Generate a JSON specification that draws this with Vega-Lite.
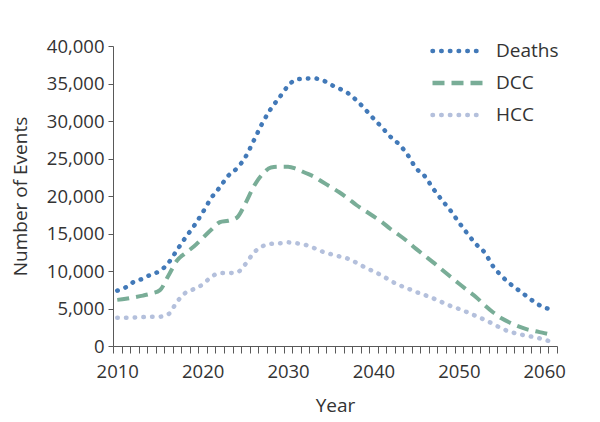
{
  "$schema": "https://vega.github.io/schema/vega-lite/v6.json",
  "autosize": {"type": "none"},
  "padding": {"left": 113, "top": 46, "right": 43, "bottom": 76},
  "width": 444,
  "height": 300,
  "background": "white",
  "config": {
    "view": {"stroke": null},
    "font": "Open Sans",
    "axis": {"labelFont": "Open Sans", "titleFont": "Open Sans", "labelColor": "#333333", "titleColor": "#333333", "titleFontWeight": "normal", "domainColor": "#595959", "tickColor": "#595959", "grid": false}
  },
  "data": {"values": [
    {"year":2010,"series":"Deaths","value":7380},{"year":2011,"series":"Deaths","value":7820},{"year":2012,"series":"Deaths","value":8600},{"year":2013,"series":"Deaths","value":8970},{"year":2014,"series":"Deaths","value":9570},{"year":2015,"series":"Deaths","value":10000},{"year":2016,"series":"Deaths","value":11100},{"year":2017,"series":"Deaths","value":12800},{"year":2018,"series":"Deaths","value":14470},{"year":2019,"series":"Deaths","value":16030},{"year":2020,"series":"Deaths","value":17800},{"year":2021,"series":"Deaths","value":19720},{"year":2022,"series":"Deaths","value":21150},{"year":2023,"series":"Deaths","value":22700},{"year":2024,"series":"Deaths","value":23680},{"year":2025,"series":"Deaths","value":25180},{"year":2026,"series":"Deaths","value":27420},{"year":2027,"series":"Deaths","value":29730},{"year":2028,"series":"Deaths","value":31640},{"year":2029,"series":"Deaths","value":33150},{"year":2030,"series":"Deaths","value":34680},{"year":2031,"series":"Deaths","value":35550},{"year":2032,"series":"Deaths","value":35640},{"year":2033,"series":"Deaths","value":35680},{"year":2034,"series":"Deaths","value":35470},{"year":2035,"series":"Deaths","value":34850},{"year":2036,"series":"Deaths","value":34320},{"year":2037,"series":"Deaths","value":33720},{"year":2038,"series":"Deaths","value":32770},{"year":2039,"series":"Deaths","value":31600},{"year":2040,"series":"Deaths","value":30340},{"year":2041,"series":"Deaths","value":29150},{"year":2042,"series":"Deaths","value":27890},{"year":2043,"series":"Deaths","value":26900},{"year":2044,"series":"Deaths","value":25500},{"year":2045,"series":"Deaths","value":23700},{"year":2046,"series":"Deaths","value":22660},{"year":2047,"series":"Deaths","value":20980},{"year":2048,"series":"Deaths","value":19490},{"year":2049,"series":"Deaths","value":18100},{"year":2050,"series":"Deaths","value":16500},{"year":2051,"series":"Deaths","value":15000},{"year":2052,"series":"Deaths","value":13600},{"year":2053,"series":"Deaths","value":12500},{"year":2054,"series":"Deaths","value":10650},{"year":2055,"series":"Deaths","value":9350},{"year":2056,"series":"Deaths","value":8300},{"year":2057,"series":"Deaths","value":7440},{"year":2058,"series":"Deaths","value":6600},{"year":2059,"series":"Deaths","value":5750},{"year":2060,"series":"Deaths","value":5130},{"year":2061,"series":"Deaths","value":4890},
    {"year":2010,"series":"DCC","value":6150},{"year":2011,"series":"DCC","value":6300},{"year":2012,"series":"DCC","value":6500},{"year":2013,"series":"DCC","value":6720},{"year":2014,"series":"DCC","value":7000},{"year":2015,"series":"DCC","value":7450},{"year":2016,"series":"DCC","value":9400},{"year":2017,"series":"DCC","value":11400},{"year":2018,"series":"DCC","value":12400},{"year":2019,"series":"DCC","value":13300},{"year":2020,"series":"DCC","value":14400},{"year":2021,"series":"DCC","value":15500},{"year":2022,"series":"DCC","value":16500},{"year":2023,"series":"DCC","value":16700},{"year":2024,"series":"DCC","value":17100},{"year":2025,"series":"DCC","value":19000},{"year":2026,"series":"DCC","value":21300},{"year":2027,"series":"DCC","value":22900},{"year":2028,"series":"DCC","value":23800},{"year":2029,"series":"DCC","value":23900},{"year":2030,"series":"DCC","value":23900},{"year":2031,"series":"DCC","value":23600},{"year":2032,"series":"DCC","value":23100},{"year":2033,"series":"DCC","value":22600},{"year":2034,"series":"DCC","value":21900},{"year":2035,"series":"DCC","value":21200},{"year":2036,"series":"DCC","value":20500},{"year":2037,"series":"DCC","value":19700},{"year":2038,"series":"DCC","value":18800},{"year":2039,"series":"DCC","value":18050},{"year":2040,"series":"DCC","value":17300},{"year":2041,"series":"DCC","value":16530},{"year":2042,"series":"DCC","value":15600},{"year":2043,"series":"DCC","value":14800},{"year":2044,"series":"DCC","value":13930},{"year":2045,"series":"DCC","value":12950},{"year":2046,"series":"DCC","value":12050},{"year":2047,"series":"DCC","value":11150},{"year":2048,"series":"DCC","value":10200},{"year":2049,"series":"DCC","value":9260},{"year":2050,"series":"DCC","value":8340},{"year":2051,"series":"DCC","value":7420},{"year":2052,"series":"DCC","value":6540},{"year":2053,"series":"DCC","value":5470},{"year":2054,"series":"DCC","value":4500},{"year":2055,"series":"DCC","value":3700},{"year":2056,"series":"DCC","value":3100},{"year":2057,"series":"DCC","value":2620},{"year":2058,"series":"DCC","value":2220},{"year":2059,"series":"DCC","value":1960},{"year":2060,"series":"DCC","value":1720},{"year":2061,"series":"DCC","value":1450},
    {"year":2010,"series":"HCC","value":3780},{"year":2011,"series":"HCC","value":3780},{"year":2012,"series":"HCC","value":3800},{"year":2013,"series":"HCC","value":3850},{"year":2014,"series":"HCC","value":3900},{"year":2015,"series":"HCC","value":3910},{"year":2016,"series":"HCC","value":4250},{"year":2017,"series":"HCC","value":5900},{"year":2018,"series":"HCC","value":7100},{"year":2019,"series":"HCC","value":7600},{"year":2020,"series":"HCC","value":8200},{"year":2021,"series":"HCC","value":9200},{"year":2022,"series":"HCC","value":9730},{"year":2023,"series":"HCC","value":9730},{"year":2024,"series":"HCC","value":9800},{"year":2025,"series":"HCC","value":10900},{"year":2026,"series":"HCC","value":12450},{"year":2027,"series":"HCC","value":13300},{"year":2028,"series":"HCC","value":13620},{"year":2029,"series":"HCC","value":13700},{"year":2030,"series":"HCC","value":13820},{"year":2031,"series":"HCC","value":13700},{"year":2032,"series":"HCC","value":13500},{"year":2033,"series":"HCC","value":13080},{"year":2034,"series":"HCC","value":12600},{"year":2035,"series":"HCC","value":12250},{"year":2036,"series":"HCC","value":11950},{"year":2037,"series":"HCC","value":11650},{"year":2038,"series":"HCC","value":11100},{"year":2039,"series":"HCC","value":10500},{"year":2040,"series":"HCC","value":9950},{"year":2041,"series":"HCC","value":9400},{"year":2042,"series":"HCC","value":8700},{"year":2043,"series":"HCC","value":8130},{"year":2044,"series":"HCC","value":7680},{"year":2045,"series":"HCC","value":7200},{"year":2046,"series":"HCC","value":6800},{"year":2047,"series":"HCC","value":6350},{"year":2048,"series":"HCC","value":5850},{"year":2049,"series":"HCC","value":5350},{"year":2050,"series":"HCC","value":4950},{"year":2051,"series":"HCC","value":4500},{"year":2052,"series":"HCC","value":4000},{"year":2053,"series":"HCC","value":3500},{"year":2054,"series":"HCC","value":2950},{"year":2055,"series":"HCC","value":2350},{"year":2056,"series":"HCC","value":1900},{"year":2057,"series":"HCC","value":1600},{"year":2058,"series":"HCC","value":1350},{"year":2059,"series":"HCC","value":1150},{"year":2060,"series":"HCC","value":850},{"year":2061,"series":"HCC","value":500}
  ]},
  "encoding": {
    "y": {"field": "value", "type": "quantitative", "scale": {"domain": [0, 40000], "nice": false},
      "axis": {"values": [0,5000,10000,15000,20000,25000,30000,35000,40000], "format": ",.0f", "labelFontSize": 18.5, "tickSize": 5, "labelPadding": 4, "title": "Number of Events", "titleFontSize": 19, "titlePadding": 16}},
    "color": {"field": "series", "type": "nominal", "scale": {"domain": ["Deaths","DCC","HCC"], "range": ["#4279b8","#79ad97","#b4c0dc"]},
      "legend": {"title": null, "orient": "none", "legendX": 317, "legendY": -11, "symbolType": "stroke", "symbolSize": 2704, "symbolStrokeWidth": 4.5, "labelFontSize": 19, "labelFont": "Open Sans", "labelColor": "#333333", "labelOffset": 9, "rowPadding": 0, "clipHeight": 32,
        "encode": {"symbols": {"update": {"strokeCap": {"signal": "datum.value === 'DCC' ? 'butt' : 'round'"}}}}}},
    "strokeDash": {"field": "series", "type": "nominal", "scale": {"domain": ["Deaths","DCC","HCC"], "range": [[0.5,8.2],[12,7],[0.5,8.2]]}}
  },
  "layer": [
    {
      "transform": [{"filter": "datum.series === 'DCC'"}],
      "mark": {"type": "line", "strokeWidth": 4, "strokeCap": "butt", "interpolate": "monotone"},
      "encoding": {
        "x": {"field": "year", "type": "quantitative", "scale": {"domain": [2009.5, 2061.5], "nice": false, "zero": false},
          "axis": {"orient": "bottom", "values": [2009.5,2010.5,2011.5,2012.5,2013.5,2014.5,2015.5,2016.5,2017.5,2018.5,2019.5,2020.5,2021.5,2022.5,2023.5,2024.5,2025.5,2026.5,2027.5,2028.5,2029.5,2030.5,2031.5,2032.5,2033.5,2034.5,2035.5,2036.5,2037.5,2038.5,2039.5,2040.5,2041.5,2042.5,2043.5,2044.5,2045.5,2046.5,2047.5,2048.5,2049.5,2050.5,2051.5,2052.5,2053.5,2054.5,2055.5,2056.5,2057.5,2058.5,2059.5,2060.5,2061.5], "labels": false, "tickSize": 7, "title": null}}
      }
    },
    {
      "transform": [{"filter": "datum.series !== 'DCC'"}],
      "mark": {"type": "line", "strokeWidth": 4.5, "strokeCap": "round", "interpolate": "monotone"},
      "encoding": {
        "x": {"field": "year", "type": "quantitative", "scale": {"domain": [2009.5, 2061.5], "nice": false, "zero": false},
          "axis": {"orient": "bottom", "values": [2010,2020,2030,2040,2050,2060], "format": "d", "ticks": false, "domain": false, "labelFontSize": 18.5, "labelPadding": 16, "title": "Year", "titleFontSize": 19, "titlePadding": 16}}
      }
    }
  ],
  "resolve": {"axis": {"x": "independent"}}
}
